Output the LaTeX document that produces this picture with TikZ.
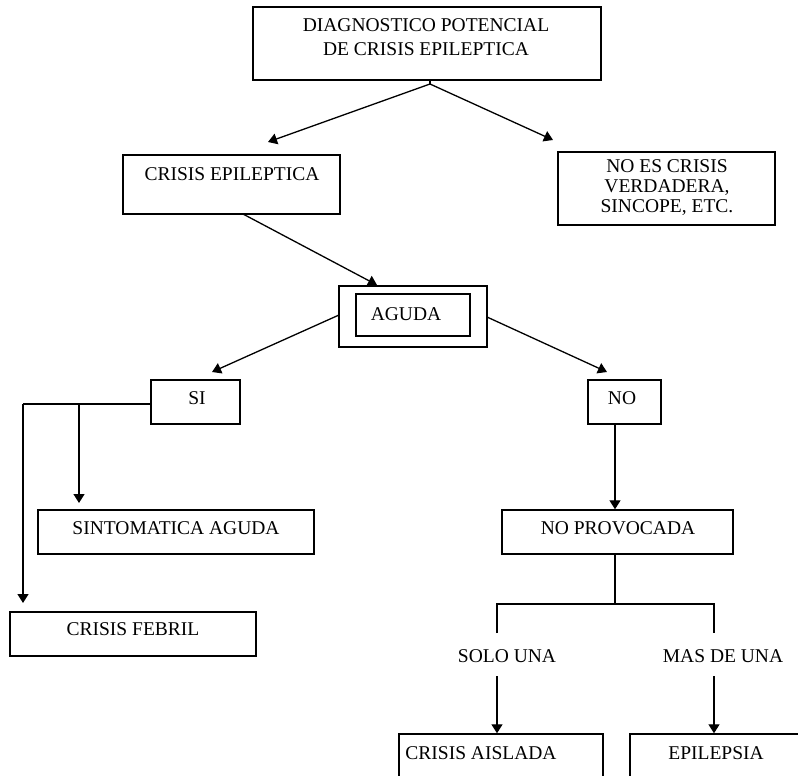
\documentclass[tikz,border=0pt]{standalone}
\usepackage{fontspec}
\setmainfont{Liberation Serif}
\usetikzlibrary{arrows.meta}
\begin{document}
\begin{tikzpicture}[x=1pt,y=-1pt,
  box/.style={draw,line width=1.4pt,rectangle,inner sep=0pt},
  txt/.style={inner sep=0pt,font=\fontsize{19.5}{20}\selectfont,align=center},
  conn/.style={line width=1.3pt,-{Triangle[width=11pt,length=9pt]}},
  plain/.style={line width=1.3pt}]
\useasboundingbox (0,0) rectangle (798,776);
\clip (0,0) rectangle (798,776);
% boxes
\node[box,minimum width=348pt,minimum height=73pt] (top) at (427,43.5) {};
\node[txt,font=\fontsize{19.5}{24}\selectfont] (topt) at (426,37) {DIAGNOSTICO POTENCIAL\\DE CRISIS EPILEPTICA};
\node[box,minimum width=217pt,minimum height=59pt] (ce) at (231.5,184.5) {};
\node[txt] (cet) at (232,174) {CRISIS EPILEPTICA};
\node[box,minimum width=217pt,minimum height=73pt] (nes) at (666.5,188.5) {};
\node[txt] (nest) at (667,188) {NO ES CRISIS\\VERDADERA,\\SINCOPE, ETC.};
\node[box,minimum width=148pt,minimum height=61pt] (ag) at (413,316.5) {};
\node[box,minimum width=114pt,minimum height=42pt] (agi) at (413,315) {};
\node[txt] (agt) at (406,314) {AGUDA};
\node[box,minimum width=89pt,minimum height=44pt] (si) at (195.5,402) {};
\node[txt] (sit) at (197,398) {SI};
\node[box,minimum width=73pt,minimum height=44pt] (no) at (624.5,402) {};
\node[txt] (not) at (622,398) {NO};
\node[box,minimum width=276pt,minimum height=44pt] (sa) at (176,532) {};
\node[txt] (sat) at (176,528) {SINTOMATICA AGUDA};
\node[box,minimum width=246pt,minimum height=44pt] (cf) at (133,634) {};
\node[txt] (cft) at (133,629) {CRISIS FEBRIL};
\node[box,minimum width=231pt,minimum height=44pt] (np) at (617.5,532) {};
\node[txt] (npt) at (618,528) {NO PROVOCADA};
\node[box,minimum width=204pt,minimum height=80pt] (ca) at (501,774) {};
\node[txt] (cat) at (481,753) {CRISIS AISLADA};
\node[box,minimum width=200pt,minimum height=80pt] (ep) at (730,774) {};
\node[txt] (ept) at (716,753) {EPILEPSIA};
\node[txt] (solo) at (507,656) {SOLO UNA};
\node[txt] (mas) at (723,656) {MAS DE UNA};
% coordinates
\coordinate (jn) at (430,84);
\coordinate (ceb) at (243,214);
\coordinate (agl) at (339,315);
\coordinate (agr) at (487,317);
\coordinate (sil) at (si.west |- 0,404);
\coordinate (brl) at (23,404);
\coordinate (brm) at (79,404);
\coordinate (fork) at (615,604);
\coordinate (forkl) at (497,604);
\coordinate (forkr) at (714,604);
% connectors
\draw[plain] (top.south -| jn) -- (jn);
\draw[conn] (jn) -- (268,142);
\draw[conn] (jn) -- (553,140);
\draw[conn] (ceb) -- (377,285);
\draw[conn] (agl) -- (212,372);
\draw[conn] (agr) -- (607,372);
\draw[plain] (sil) -- (brl);
\draw[conn] (brl) -- (brl |- 0,603);
\draw[conn] (brm) -- (brm |- 0,503);
\draw[conn] (no.south -| 615,0) -- (np.north -| 615,0);
\draw[plain] (np.south -| fork) -- (fork);
\draw[plain] (forkl |- 0,633) -- (forkl) -- (forkr) -- (forkr |- 0,633);
\draw[conn] (497,676) -- (ca.north -| 497,0);
\draw[conn] (714,676) -- (ep.north -| 714,0);
\end{tikzpicture}
\end{document}
